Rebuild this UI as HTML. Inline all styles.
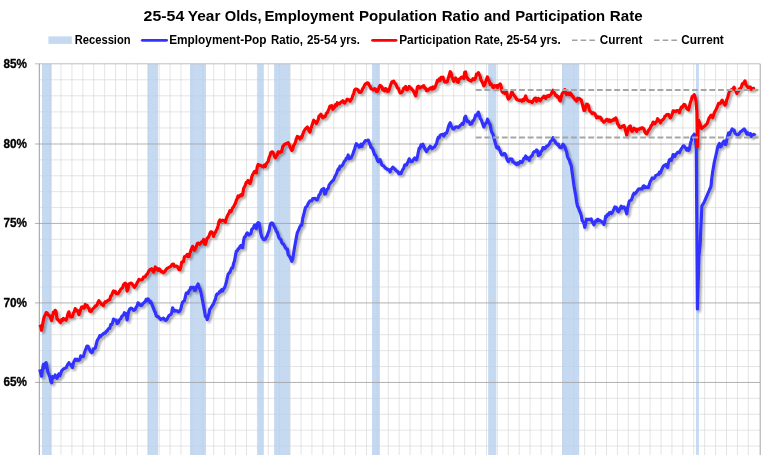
<!DOCTYPE html>
<html><head><meta charset="utf-8"><title>chart</title>
<style>html,body{margin:0;padding:0;background:#fff;overflow:hidden}body{width:768px;height:455px;position:relative;font-family:"Liberation Sans",sans-serif}</style></head>
<body>
<svg width="768" height="455" viewBox="0 0 768 455" style="position:absolute;left:0;top:0">
<defs><filter id="sh" x="-5%" y="-5%" width="110%" height="110%"><feGaussianBlur in="SourceAlpha" stdDeviation="1.3"/><feOffset dx="1.6" dy="1.6"/><feComponentTransfer><feFuncA type="linear" slope="0.33"/></feComponentTransfer><feMerge><feMergeNode/><feMergeNode in="SourceGraphic"/></feMerge></filter></defs>
<rect x="0" y="0" width="768" height="455" fill="#fff"/>
<path d="M50.09,63.8 V455 M61.00,63.8 V455 M71.91,63.8 V455 M82.82,63.8 V455 M93.73,63.8 V455 M104.64,63.8 V455 M115.55,63.8 V455 M126.46,63.8 V455 M137.37,63.8 V455 M148.28,63.8 V455 M159.19,63.8 V455 M170.10,63.8 V455 M181.01,63.8 V455 M191.92,63.8 V455 M202.83,63.8 V455 M213.74,63.8 V455 M224.65,63.8 V455 M235.56,63.8 V455 M246.47,63.8 V455 M257.38,63.8 V455 M268.29,63.8 V455 M279.20,63.8 V455 M290.11,63.8 V455 M301.02,63.8 V455 M311.93,63.8 V455 M322.84,63.8 V455 M333.75,63.8 V455 M344.66,63.8 V455 M355.57,63.8 V455 M366.48,63.8 V455 M377.39,63.8 V455 M388.30,63.8 V455 M399.21,63.8 V455 M410.12,63.8 V455 M421.03,63.8 V455 M431.94,63.8 V455 M442.85,63.8 V455 M453.76,63.8 V455 M464.67,63.8 V455 M475.58,63.8 V455 M486.49,63.8 V455 M497.40,63.8 V455 M508.31,63.8 V455 M519.22,63.8 V455 M530.13,63.8 V455 M541.04,63.8 V455 M551.95,63.8 V455 M562.86,63.8 V455 M573.77,63.8 V455 M584.68,63.8 V455 M595.59,63.8 V455 M606.50,63.8 V455 M617.41,63.8 V455 M628.32,63.8 V455 M639.23,63.8 V455 M650.14,63.8 V455 M661.05,63.8 V455 M671.96,63.8 V455 M682.87,63.8 V455 M693.78,63.8 V455 M704.69,63.8 V455 M715.60,63.8 V455 M726.51,63.8 V455 M737.42,63.8 V455 M748.33,63.8 V455" stroke="#d8d8d8" stroke-width="0.7" fill="none"/>
<path d="M39.3,79.76 H760.2 M39.3,95.82 H760.2 M39.3,111.88 H760.2 M39.3,127.94 H760.2 M39.3,159.89 H760.2 M39.3,175.78 H760.2 M39.3,191.67 H760.2 M39.3,207.56 H760.2 M39.3,239.34 H760.2 M39.3,255.23 H760.2 M39.3,271.12 H760.2 M39.3,287.01 H760.2 M39.3,318.81 H760.2 M39.3,334.72 H760.2 M39.3,350.63 H760.2 M39.3,366.54 H760.2 M39.3,398.35 H760.2 M39.3,414.25 H760.2 M39.3,430.15 H760.2 M39.3,446.05 H760.2" stroke="#d8d8d8" stroke-width="0.7" fill="none"/>
<rect x="42.0" y="63.8" width="9.7" height="393.2" fill="#b7d0ee" fill-opacity="0.8"/>
<rect x="147.5" y="63.8" width="10.6" height="393.2" fill="#b7d0ee" fill-opacity="0.8"/>
<rect x="190.0" y="63.8" width="15.9" height="393.2" fill="#b7d0ee" fill-opacity="0.8"/>
<rect x="257.6" y="63.8" width="6.2" height="393.2" fill="#b7d0ee" fill-opacity="0.8"/>
<rect x="274.1" y="63.8" width="15.8" height="393.2" fill="#b7d0ee" fill-opacity="0.8"/>
<rect x="372.0" y="63.8" width="7.9" height="393.2" fill="#b7d0ee" fill-opacity="0.8"/>
<rect x="488.2" y="63.8" width="8.1" height="393.2" fill="#b7d0ee" fill-opacity="0.8"/>
<rect x="562.1" y="63.8" width="17.1" height="393.2" fill="#b7d0ee" fill-opacity="0.8"/>
<rect x="696.05" y="63.8" width="2.8" height="393.2" fill="#b7d0ee" fill-opacity="0.8"/>
<path d="M35.0,144.00 H760.2 M35.0,223.45 H760.2 M35.0,302.90 H760.2 M35.0,382.45 H760.2" stroke="#a4a4a4" stroke-width="0.85" fill="none"/>
<path d="M35.0,63.8 H760.2" stroke="#bfbfbf" stroke-width="1" fill="none"/>
<path d="M760.2,63.8 V455" stroke="#a6a6a6" stroke-width="1" fill="none"/>
<path d="M39.3,63.8 V455" stroke="#8a8a8a" stroke-width="0.85" fill="none"/>
<g filter="url(#sh)"><path d="M39.8,369.4 L40.7,373.3 L41.6,376.2 L42.5,369.6 L43.4,364.3 L44.3,368.0 L45.2,363.7 L46.1,362.6 L47.0,367.3 L47.9,372.1 L48.9,374.4 L49.8,376.7 L50.7,381.0 L51.6,382.9 L52.5,376.7 L53.4,377.8 L54.3,377.4 L55.2,375.0 L56.1,376.5 L57.0,378.4 L58.0,376.3 L58.9,373.8 L59.8,375.7 L60.7,373.9 L61.6,371.1 L62.5,370.0 L63.4,368.9 L64.3,368.6 L65.2,368.2 L66.1,367.7 L67.1,365.6 L68.0,364.2 L68.9,362.7 L69.8,364.3 L70.7,364.6 L71.6,366.2 L72.5,367.6 L73.4,363.1 L74.3,360.8 L75.2,359.2 L76.2,360.3 L77.1,359.3 L78.0,360.3 L78.9,360.3 L79.8,359.6 L80.7,355.9 L81.6,356.8 L82.5,356.7 L83.4,356.6 L84.3,353.3 L85.3,350.3 L86.2,348.1 L87.1,346.0 L88.0,346.2 L88.9,348.2 L89.8,350.0 L90.7,351.7 L91.6,352.6 L92.5,352.1 L93.4,348.8 L94.4,348.7 L95.3,348.2 L96.2,344.5 L97.1,341.0 L98.0,339.1 L98.9,337.8 L99.8,335.7 L100.7,336.5 L101.6,334.9 L102.5,334.6 L103.5,333.6 L104.4,332.9 L105.3,333.1 L106.2,331.4 L107.1,331.2 L108.0,329.3 L108.9,328.4 L109.8,328.5 L110.7,324.5 L111.6,324.7 L112.6,322.6 L113.5,319.1 L114.4,319.8 L115.3,320.2 L116.2,320.1 L117.1,323.6 L118.0,322.9 L118.9,321.2 L119.8,319.4 L120.7,318.9 L121.7,316.6 L122.6,315.6 L123.5,315.1 L124.4,312.7 L125.3,314.4 L126.2,313.8 L127.1,319.9 L128.0,314.7 L128.9,311.0 L129.8,309.0 L130.8,308.2 L131.7,308.3 L132.6,309.1 L133.5,310.3 L134.4,310.2 L135.3,309.3 L136.2,307.0 L137.1,306.2 L138.0,302.8 L138.9,303.5 L139.9,304.7 L140.8,305.4 L141.7,305.5 L142.6,304.0 L143.5,303.1 L144.4,302.3 L145.3,301.5 L146.2,299.3 L147.1,300.5 L148.0,298.8 L149.0,300.2 L149.9,302.5 L150.8,301.8 L151.7,303.6 L152.6,306.2 L153.5,308.4 L154.4,310.7 L155.3,312.4 L156.2,315.7 L157.1,316.5 L158.1,316.5 L159.0,317.7 L159.9,318.6 L160.8,319.5 L161.7,318.9 L162.6,318.8 L163.5,318.2 L164.4,318.9 L165.3,320.3 L166.2,320.2 L167.2,318.9 L168.1,317.2 L169.0,315.6 L169.9,315.0 L170.8,314.6 L171.7,312.7 L172.6,307.9 L173.5,309.9 L174.4,311.1 L175.3,310.6 L176.3,310.9 L177.2,310.8 L178.1,311.8 L179.0,311.9 L179.9,310.7 L180.8,309.1 L181.7,305.0 L182.6,302.2 L183.5,301.3 L184.4,300.8 L185.4,296.6 L186.3,293.0 L187.2,292.9 L188.1,293.4 L189.0,290.6 L189.9,290.2 L190.8,287.3 L191.7,287.9 L192.6,287.4 L193.5,287.4 L194.5,290.5 L195.4,290.3 L196.3,286.7 L197.2,286.0 L198.1,283.9 L199.0,287.4 L199.9,288.9 L200.8,291.7 L201.7,296.2 L202.6,300.7 L203.6,306.2 L204.5,310.9 L205.4,316.4 L206.3,316.5 L207.2,319.5 L208.1,316.4 L209.0,313.6 L209.9,308.9 L210.8,308.4 L211.7,306.4 L212.7,305.1 L213.6,303.6 L214.5,301.0 L215.4,299.3 L216.3,295.4 L217.2,293.9 L218.1,293.8 L219.0,292.9 L219.9,291.3 L220.8,291.8 L221.7,289.6 L222.7,290.9 L223.6,288.9 L224.5,287.9 L225.4,285.3 L226.3,282.5 L227.2,278.2 L228.1,274.4 L229.0,273.0 L229.9,272.5 L230.8,269.9 L231.8,267.8 L232.7,267.9 L233.6,263.4 L234.5,261.1 L235.4,256.0 L236.3,251.2 L237.2,251.0 L238.1,249.0 L239.0,248.5 L239.9,246.6 L240.9,245.4 L241.8,247.5 L242.7,247.7 L243.6,240.6 L244.5,237.0 L245.4,236.7 L246.3,234.2 L247.2,232.9 L248.1,233.8 L249.0,235.0 L250.0,233.8 L250.9,233.7 L251.8,229.3 L252.7,228.7 L253.6,227.2 L254.5,225.3 L255.4,225.1 L256.3,228.6 L257.2,224.1 L258.1,222.6 L259.1,223.2 L260.0,228.0 L260.9,233.9 L261.8,236.9 L262.7,238.3 L263.6,239.6 L264.5,239.6 L265.4,239.1 L266.3,237.2 L267.2,235.8 L268.2,232.7 L269.1,230.8 L270.0,225.6 L270.9,223.3 L271.8,222.8 L272.7,223.4 L273.6,225.2 L274.5,227.0 L275.4,228.8 L276.3,231.3 L277.3,232.2 L278.2,235.4 L279.1,237.9 L280.0,239.0 L280.9,239.5 L281.8,242.6 L282.7,244.0 L283.6,244.1 L284.5,245.9 L285.4,247.7 L286.4,249.1 L287.3,249.1 L288.2,254.6 L289.1,256.0 L290.0,257.0 L290.9,259.0 L291.8,261.3 L292.7,259.2 L293.6,253.8 L294.5,247.8 L295.5,242.3 L296.4,237.4 L297.3,232.8 L298.2,230.9 L299.1,229.0 L300.0,226.6 L300.9,225.2 L301.8,225.3 L302.7,218.4 L303.6,215.3 L304.6,211.0 L305.5,207.5 L306.4,206.8 L307.3,205.7 L308.2,203.5 L309.1,202.3 L310.0,200.8 L310.9,200.8 L311.8,200.8 L312.7,198.6 L313.7,198.8 L314.6,198.4 L315.5,198.5 L316.4,200.0 L317.3,200.0 L318.2,197.6 L319.1,194.9 L320.0,194.3 L320.9,191.4 L321.8,189.7 L322.8,189.2 L323.7,188.5 L324.6,194.1 L325.5,193.8 L326.4,191.1 L327.3,189.1 L328.2,188.7 L329.1,185.2 L330.0,183.9 L330.9,182.6 L331.9,181.6 L332.8,180.7 L333.7,179.8 L334.6,177.3 L335.5,175.5 L336.4,174.1 L337.3,171.2 L338.2,169.0 L339.1,169.6 L340.0,166.1 L341.0,166.6 L341.9,165.9 L342.8,164.7 L343.7,162.7 L344.6,160.9 L345.5,160.2 L346.4,158.3 L347.3,157.9 L348.2,155.0 L349.1,158.8 L350.1,158.2 L351.0,158.1 L351.9,156.3 L352.8,154.4 L353.7,151.4 L354.6,149.3 L355.5,145.9 L356.4,143.7 L357.3,144.8 L358.2,145.3 L359.2,147.2 L360.1,146.0 L361.0,144.1 L361.9,146.6 L362.8,143.8 L363.7,143.3 L364.6,141.7 L365.5,140.5 L366.4,140.7 L367.3,140.5 L368.3,140.1 L369.2,142.7 L370.1,144.5 L371.0,147.5 L371.9,147.7 L372.8,149.2 L373.7,151.9 L374.6,154.6 L375.5,155.2 L376.4,157.1 L377.4,160.3 L378.3,161.7 L379.2,161.1 L380.1,159.7 L381.0,162.1 L381.9,165.0 L382.8,165.5 L383.7,165.7 L384.6,167.2 L385.5,168.1 L386.5,168.8 L387.4,169.5 L388.3,169.4 L389.2,170.3 L390.1,171.9 L391.0,169.5 L391.9,168.4 L392.8,167.1 L393.7,167.9 L394.6,168.8 L395.6,169.9 L396.5,171.0 L397.4,171.3 L398.3,172.9 L399.2,173.9 L400.1,172.7 L401.0,173.5 L401.9,171.4 L402.8,169.5 L403.7,168.4 L404.7,165.0 L405.6,164.7 L406.5,165.0 L407.4,163.0 L408.3,161.3 L409.2,158.8 L410.1,160.5 L411.0,161.7 L411.9,161.7 L412.8,160.8 L413.8,159.1 L414.7,157.9 L415.6,158.2 L416.5,159.9 L417.4,157.0 L418.3,152.3 L419.2,148.2 L420.1,148.4 L421.0,144.8 L421.9,146.1 L422.9,144.2 L423.8,146.5 L424.7,148.6 L425.6,150.1 L426.5,151.6 L427.4,150.0 L428.3,149.0 L429.2,147.8 L430.1,146.2 L431.0,147.0 L432.0,148.7 L432.9,148.0 L433.8,147.1 L434.7,147.0 L435.6,144.8 L436.5,143.9 L437.4,139.8 L438.3,137.4 L439.2,137.9 L440.1,135.5 L441.1,134.6 L442.0,134.6 L442.9,134.2 L443.8,136.1 L444.7,134.7 L445.6,133.0 L446.5,133.1 L447.4,130.8 L448.3,127.3 L449.2,124.5 L450.2,122.8 L451.1,125.7 L452.0,127.2 L452.9,128.7 L453.8,129.1 L454.7,127.8 L455.6,127.1 L456.5,126.8 L457.4,127.1 L458.3,127.5 L459.3,126.7 L460.2,125.2 L461.1,125.0 L462.0,123.5 L462.9,124.4 L463.8,122.6 L464.7,117.4 L465.6,116.3 L466.5,119.4 L467.4,121.5 L468.4,121.2 L469.3,122.1 L470.2,124.3 L471.1,123.9 L472.0,123.2 L472.9,120.5 L473.8,120.4 L474.7,118.4 L475.6,115.2 L476.5,115.7 L477.5,113.8 L478.4,112.1 L479.3,115.2 L480.2,118.4 L481.1,119.5 L482.0,121.9 L482.9,124.6 L483.8,127.0 L484.7,125.0 L485.6,123.4 L486.6,122.6 L487.5,119.2 L488.4,121.5 L489.3,123.5 L490.2,124.4 L491.1,130.1 L492.0,132.7 L492.9,133.9 L493.8,137.5 L494.7,140.7 L495.7,144.5 L496.6,147.5 L497.5,148.2 L498.4,147.0 L499.3,149.6 L500.2,150.9 L501.1,153.7 L502.0,155.0 L502.9,154.7 L503.8,153.7 L504.8,153.7 L505.7,155.1 L506.6,158.1 L507.5,160.4 L508.4,161.6 L509.3,159.7 L510.2,158.8 L511.1,159.1 L512.0,159.1 L512.9,161.9 L513.9,162.1 L514.8,163.5 L515.7,163.3 L516.6,164.6 L517.5,162.9 L518.4,164.1 L519.3,163.3 L520.2,161.4 L521.1,161.8 L522.0,162.5 L523.0,160.8 L523.9,158.4 L524.8,158.2 L525.7,156.0 L526.6,158.8 L527.5,157.6 L528.4,158.4 L529.3,160.3 L530.2,157.8 L531.1,156.2 L532.1,156.1 L533.0,153.4 L533.9,151.8 L534.8,151.7 L535.7,151.3 L536.6,150.0 L537.5,150.9 L538.4,155.6 L539.3,154.9 L540.2,154.4 L541.2,150.9 L542.1,150.6 L543.0,147.5 L543.9,147.6 L544.8,148.8 L545.7,147.8 L546.6,146.0 L547.5,146.2 L548.4,145.1 L549.3,144.2 L550.3,141.7 L551.2,140.8 L552.1,139.9 L553.0,137.7 L553.9,140.2 L554.8,140.9 L555.7,143.0 L556.6,143.7 L557.5,144.8 L558.4,144.3 L559.4,147.0 L560.3,147.5 L561.2,147.8 L562.1,146.5 L563.0,144.2 L563.9,145.2 L564.8,146.9 L565.7,149.5 L566.6,151.9 L567.5,156.6 L568.5,158.8 L569.4,160.2 L570.3,163.5 L571.2,165.4 L572.1,172.0 L573.0,178.4 L573.9,185.3 L574.8,190.5 L575.7,195.4 L576.6,201.8 L577.6,206.4 L578.5,207.8 L579.4,210.7 L580.3,212.4 L581.2,215.4 L582.1,220.5 L583.0,221.4 L583.9,223.2 L584.8,227.3 L585.7,223.5 L586.6,219.2 L587.6,219.4 L588.5,219.3 L589.4,219.7 L590.3,219.3 L591.2,218.9 L592.1,221.5 L593.0,223.1 L593.9,224.8 L594.8,222.9 L595.7,220.8 L596.7,221.1 L597.6,219.3 L598.5,220.9 L599.4,220.1 L600.3,220.9 L601.2,221.4 L602.1,221.9 L603.0,222.9 L603.9,224.4 L604.8,221.3 L605.8,216.1 L606.7,216.5 L607.6,214.4 L608.5,214.9 L609.4,212.8 L610.3,212.4 L611.2,213.7 L612.1,213.0 L613.0,211.1 L613.9,209.2 L614.9,206.9 L615.8,207.2 L616.7,207.8 L617.6,211.0 L618.5,211.7 L619.4,210.0 L620.3,208.2 L621.2,206.1 L622.1,208.2 L623.0,207.4 L624.0,206.9 L624.9,208.4 L625.8,210.5 L626.7,213.9 L627.6,208.0 L628.5,204.3 L629.4,200.9 L630.3,200.6 L631.2,200.1 L632.1,198.1 L633.1,194.8 L634.0,193.2 L634.9,194.0 L635.8,193.0 L636.7,191.7 L637.6,190.5 L638.5,189.0 L639.4,188.8 L640.3,189.2 L641.2,188.6 L642.2,189.0 L643.1,186.2 L644.0,185.8 L644.9,187.7 L645.8,187.1 L646.7,187.5 L647.6,186.7 L648.5,187.4 L649.4,184.2 L650.3,181.5 L651.3,179.9 L652.2,178.0 L653.1,178.4 L654.0,178.3 L654.9,177.2 L655.8,175.5 L656.7,175.2 L657.6,174.7 L658.5,174.6 L659.4,172.2 L660.4,173.0 L661.3,170.6 L662.2,168.5 L663.1,166.7 L664.0,165.5 L664.9,165.2 L665.8,164.5 L666.7,166.4 L667.6,167.5 L668.5,162.8 L669.5,159.6 L670.4,159.2 L671.3,160.5 L672.2,158.1 L673.1,154.6 L674.0,154.9 L674.9,156.4 L675.8,154.3 L676.7,153.7 L677.6,152.2 L678.6,152.0 L679.5,152.7 L680.4,150.5 L681.3,148.9 L682.2,147.5 L683.1,146.0 L684.0,145.8 L684.9,147.3 L685.8,148.1 L686.7,150.2 L687.7,148.5 L688.6,150.3 L689.5,149.1 L690.4,143.6 L691.3,140.6 L692.2,136.9 L693.1,136.0 L694.3,134.2 L695.5,138.4 L696.3,150.0 L697.4,308.9 L698.9,256.0 L700.2,243.5 L701.0,225.0 L701.9,206.0 L704.4,201.7 L706.9,195.9 L709.4,190.0 L711.0,186.5 L711.7,179.0 L712.7,171.8 L714.4,161.8 L716.0,155.0 L717.8,146.8 L719.4,143.4 L720.4,146.9 L721.3,146.2 L722.2,143.9 L723.1,142.2 L724.1,141.0 L725.0,144.4 L725.9,144.5 L726.8,139.9 L727.7,136.1 L728.6,133.0 L729.5,134.6 L730.4,132.4 L731.3,130.6 L732.2,128.9 L733.2,130.2 L734.1,130.1 L735.0,133.1 L735.9,133.9 L736.8,134.6 L737.7,135.0 L738.6,134.4 L739.5,133.4 L740.4,131.7 L741.3,131.5 L742.3,130.4 L743.2,129.7 L744.1,128.9 L745.0,130.2 L745.9,131.9 L746.8,134.0 L747.7,132.7 L748.6,134.4 L749.5,134.8 L750.4,133.6 L751.4,136.6 L752.3,135.2 L753.2,134.6 L754.1,134.7 L755.0,133.2" stroke="#3333ff" stroke-width="3.2" fill="none" stroke-linejoin="round" stroke-linecap="butt"/></g>
<g filter="url(#sh)"><path d="M39.8,324.7 L40.7,326.3 L41.6,330.3 L42.5,325.3 L43.4,320.1 L44.3,316.6 L45.2,315.2 L46.1,312.7 L47.0,312.8 L47.9,314.4 L48.9,315.2 L49.8,315.9 L50.7,318.2 L51.6,320.6 L52.5,316.7 L53.4,312.1 L54.3,313.5 L55.2,310.3 L56.1,311.9 L57.0,318.8 L58.0,319.7 L58.9,320.7 L59.8,321.7 L60.7,322.5 L61.6,319.6 L62.5,320.4 L63.4,318.4 L64.3,319.2 L65.2,319.7 L66.1,320.2 L67.1,317.2 L68.0,313.6 L68.9,311.8 L69.8,316.1 L70.7,316.8 L71.6,316.9 L72.5,316.6 L73.4,312.9 L74.3,311.8 L75.2,308.6 L76.2,310.9 L77.1,310.2 L78.0,310.9 L78.9,314.7 L79.8,312.9 L80.7,309.3 L81.6,307.0 L82.5,306.8 L83.4,308.1 L84.3,308.2 L85.3,304.5 L86.2,305.6 L87.1,305.3 L88.0,307.8 L88.9,308.0 L89.8,311.3 L90.7,311.5 L91.6,311.0 L92.5,309.3 L93.4,308.4 L94.4,307.4 L95.3,305.9 L96.2,306.1 L97.1,304.8 L98.0,302.2 L98.9,300.7 L99.8,302.7 L100.7,302.9 L101.6,304.6 L102.5,304.5 L103.5,305.5 L104.4,303.0 L105.3,301.6 L106.2,302.1 L107.1,301.2 L108.0,300.2 L108.9,300.2 L109.8,299.6 L110.7,295.9 L111.6,295.5 L112.6,292.7 L113.5,290.9 L114.4,292.3 L115.3,291.4 L116.2,293.6 L117.1,293.6 L118.0,293.7 L118.9,292.3 L119.8,291.0 L120.7,289.4 L121.7,288.5 L122.6,287.7 L123.5,284.8 L124.4,283.7 L125.3,283.1 L126.2,284.6 L127.1,291.1 L128.0,289.3 L128.9,283.8 L129.8,283.7 L130.8,283.0 L131.7,283.4 L132.6,284.7 L133.5,285.9 L134.4,287.3 L135.3,286.0 L136.2,285.1 L137.1,282.7 L138.0,281.3 L138.9,279.3 L139.9,279.9 L140.8,279.8 L141.7,279.9 L142.6,279.2 L143.5,277.2 L144.4,277.1 L145.3,276.7 L146.2,274.9 L147.1,274.4 L148.0,272.8 L149.0,270.7 L149.9,269.6 L150.8,269.5 L151.7,268.7 L152.6,270.9 L153.5,272.2 L154.4,270.3 L155.3,267.0 L156.2,269.4 L157.1,268.4 L158.1,270.4 L159.0,268.9 L159.9,269.5 L160.8,271.2 L161.7,271.8 L162.6,271.7 L163.5,272.7 L164.4,272.0 L165.3,270.9 L166.2,269.4 L167.2,268.3 L168.1,268.0 L169.0,267.3 L169.9,266.8 L170.8,266.5 L171.7,265.0 L172.6,264.1 L173.5,264.1 L174.4,266.3 L175.3,266.1 L176.3,266.2 L177.2,266.3 L178.1,267.9 L179.0,269.5 L179.9,269.8 L180.8,267.3 L181.7,262.1 L182.6,261.7 L183.5,261.8 L184.4,256.9 L185.4,256.2 L186.3,256.1 L187.2,254.5 L188.1,256.7 L189.0,256.6 L189.9,253.5 L190.8,250.7 L191.7,248.4 L192.6,246.3 L193.5,248.8 L194.5,250.3 L195.4,248.8 L196.3,246.7 L197.2,243.8 L198.1,243.1 L199.0,243.4 L199.9,244.2 L200.8,243.0 L201.7,241.8 L202.6,241.5 L203.6,239.5 L204.5,243.8 L205.4,244.4 L206.3,241.3 L207.2,238.0 L208.1,237.8 L209.0,236.1 L209.9,233.5 L210.8,231.8 L211.7,231.8 L212.7,233.3 L213.6,236.4 L214.5,233.3 L215.4,232.3 L216.3,230.3 L217.2,228.7 L218.1,225.6 L219.0,221.6 L219.9,219.9 L220.8,221.3 L221.7,220.6 L222.7,220.1 L223.6,220.9 L224.5,220.4 L225.4,222.0 L226.3,218.8 L227.2,216.4 L228.1,214.5 L229.0,213.0 L229.9,210.7 L230.8,211.9 L231.8,210.0 L232.7,207.7 L233.6,207.0 L234.5,204.9 L235.4,203.2 L236.3,200.4 L237.2,198.8 L238.1,196.0 L239.0,197.1 L239.9,195.6 L240.9,194.6 L241.8,195.7 L242.7,194.6 L243.6,188.5 L244.5,187.0 L245.4,184.8 L246.3,182.3 L247.2,181.8 L248.1,180.5 L249.0,182.8 L250.0,183.4 L250.9,181.1 L251.8,176.9 L252.7,174.5 L253.6,173.1 L254.5,171.4 L255.4,172.0 L256.3,172.9 L257.2,167.1 L258.1,164.5 L259.1,165.5 L260.0,165.2 L260.9,165.5 L261.8,166.3 L262.7,166.3 L263.6,167.0 L264.5,164.9 L265.4,166.3 L266.3,163.8 L267.2,162.5 L268.2,161.4 L269.1,157.6 L270.0,155.6 L270.9,152.3 L271.8,151.8 L272.7,152.1 L273.6,153.5 L274.5,156.4 L275.4,157.8 L276.3,155.9 L277.3,155.0 L278.2,151.8 L279.1,152.6 L280.0,152.7 L280.9,151.2 L281.8,151.6 L282.7,146.5 L283.6,145.7 L284.5,144.3 L285.4,143.8 L286.4,143.9 L287.3,143.0 L288.2,142.7 L289.1,144.2 L290.0,146.8 L290.9,148.8 L291.8,150.5 L292.7,149.3 L293.6,145.6 L294.5,144.5 L295.5,141.8 L296.4,138.8 L297.3,136.5 L298.2,137.0 L299.1,137.3 L300.0,139.0 L300.9,137.0 L301.8,137.5 L302.7,134.5 L303.6,132.1 L304.6,130.2 L305.5,128.9 L306.4,128.0 L307.3,127.0 L308.2,128.6 L309.1,130.8 L310.0,132.2 L310.9,128.7 L311.8,125.9 L312.7,123.2 L313.7,120.2 L314.6,121.2 L315.5,121.9 L316.4,123.5 L317.3,121.8 L318.2,119.7 L319.1,115.8 L320.0,115.3 L320.9,114.2 L321.8,116.4 L322.8,117.9 L323.7,116.5 L324.6,116.9 L325.5,115.9 L326.4,113.3 L327.3,112.9 L328.2,110.6 L329.1,108.6 L330.0,106.1 L330.9,106.3 L331.9,105.6 L332.8,109.3 L333.7,108.4 L334.6,106.9 L335.5,104.7 L336.4,105.8 L337.3,102.7 L338.2,103.9 L339.1,103.9 L340.0,103.3 L341.0,102.1 L341.9,101.8 L342.8,100.8 L343.7,102.5 L344.6,103.1 L345.5,101.6 L346.4,100.8 L347.3,99.1 L348.2,99.5 L349.1,99.8 L350.1,101.2 L351.0,99.5 L351.9,98.7 L352.8,95.4 L353.7,93.7 L354.6,89.9 L355.5,89.2 L356.4,89.1 L357.3,89.4 L358.2,90.1 L359.2,92.2 L360.1,92.3 L361.0,92.2 L361.9,90.5 L362.8,88.4 L363.7,87.3 L364.6,85.2 L365.5,83.8 L366.4,83.6 L367.3,82.8 L368.3,83.2 L369.2,85.4 L370.1,86.2 L371.0,88.7 L371.9,88.8 L372.8,89.7 L373.7,90.0 L374.6,88.6 L375.5,89.2 L376.4,91.3 L377.4,91.4 L378.3,89.8 L379.2,87.0 L380.1,85.3 L381.0,86.1 L381.9,86.9 L382.8,89.8 L383.7,89.3 L384.6,90.9 L385.5,88.6 L386.5,89.2 L387.4,91.5 L388.3,91.3 L389.2,89.9 L390.1,86.8 L391.0,84.1 L391.9,81.9 L392.8,81.8 L393.7,81.1 L394.6,83.0 L395.6,83.7 L396.5,85.6 L397.4,87.8 L398.3,88.3 L399.2,90.8 L400.1,92.8 L401.0,92.9 L401.9,92.2 L402.8,90.8 L403.7,88.1 L404.7,87.6 L405.6,86.5 L406.5,89.7 L407.4,89.8 L408.3,88.7 L409.2,86.4 L410.1,87.7 L411.0,88.2 L411.9,89.6 L412.8,90.1 L413.8,91.8 L414.7,93.9 L415.6,95.9 L416.5,92.4 L417.4,86.9 L418.3,86.2 L419.2,87.1 L420.1,88.1 L421.0,86.9 L421.9,87.2 L422.9,86.2 L423.8,85.7 L424.7,88.1 L425.6,88.3 L426.5,90.6 L427.4,90.8 L428.3,89.4 L429.2,89.6 L430.1,88.1 L431.0,87.7 L432.0,89.2 L432.9,87.0 L433.8,88.7 L434.7,87.8 L435.6,85.9 L436.5,83.5 L437.4,80.4 L438.3,81.0 L439.2,78.9 L440.1,80.6 L441.1,77.3 L442.0,78.3 L442.9,77.1 L443.8,79.8 L444.7,82.0 L445.6,81.6 L446.5,82.2 L447.4,81.5 L448.3,78.1 L449.2,75.1 L450.2,71.7 L451.1,73.0 L452.0,77.3 L452.9,79.1 L453.8,81.5 L454.7,78.7 L455.6,78.0 L456.5,79.2 L457.4,81.9 L458.3,82.3 L459.3,79.1 L460.2,79.0 L461.1,77.4 L462.0,77.1 L462.9,77.7 L463.8,78.4 L464.7,72.2 L465.6,71.9 L466.5,76.7 L467.4,78.0 L468.4,79.5 L469.3,80.3 L470.2,80.3 L471.1,81.1 L472.0,80.2 L472.9,78.7 L473.8,79.7 L474.7,79.6 L475.6,77.8 L476.5,74.2 L477.5,74.2 L478.4,72.6 L479.3,74.6 L480.2,76.6 L481.1,80.3 L482.0,81.7 L482.9,83.5 L483.8,85.9 L484.7,84.7 L485.6,81.8 L486.6,79.1 L487.5,76.9 L488.4,79.6 L489.3,81.6 L490.2,84.6 L491.1,84.0 L492.0,85.2 L492.9,87.5 L493.8,87.4 L494.7,85.6 L495.7,86.1 L496.6,85.6 L497.5,87.7 L498.4,85.2 L499.3,84.9 L500.2,83.9 L501.1,86.3 L502.0,91.4 L502.9,92.6 L503.8,92.3 L504.8,93.6 L505.7,92.6 L506.6,92.1 L507.5,96.9 L508.4,99.1 L509.3,98.0 L510.2,97.3 L511.1,93.9 L512.0,91.6 L512.9,94.1 L513.9,95.2 L514.8,96.3 L515.7,97.6 L516.6,99.3 L517.5,99.7 L518.4,100.0 L519.3,100.5 L520.2,100.3 L521.1,100.0 L522.0,101.3 L523.0,99.4 L523.9,100.3 L524.8,98.1 L525.7,96.0 L526.6,99.6 L527.5,100.2 L528.4,101.1 L529.3,101.4 L530.2,101.3 L531.1,101.5 L532.1,102.6 L533.0,101.4 L533.9,99.4 L534.8,98.2 L535.7,98.0 L536.6,101.3 L537.5,100.3 L538.4,98.4 L539.3,99.5 L540.2,100.9 L541.2,99.3 L542.1,98.1 L543.0,97.4 L543.9,96.1 L544.8,97.7 L545.7,98.4 L546.6,96.2 L547.5,96.7 L548.4,95.5 L549.3,96.2 L550.3,94.9 L551.2,94.2 L552.1,91.7 L553.0,90.3 L553.9,92.3 L554.8,93.6 L555.7,95.6 L556.6,95.4 L557.5,97.2 L558.4,96.6 L559.4,100.0 L560.3,101.1 L561.2,97.1 L562.1,93.9 L563.0,92.5 L563.9,92.3 L564.8,89.6 L565.7,92.7 L566.6,94.5 L567.5,93.4 L568.5,93.1 L569.4,94.6 L570.3,92.9 L571.2,94.2 L572.1,96.2 L573.0,96.4 L573.9,98.2 L574.8,99.3 L575.7,100.2 L576.6,101.1 L577.6,98.2 L578.5,99.0 L579.4,98.5 L580.3,99.4 L581.2,99.8 L582.1,103.2 L583.0,106.7 L583.9,110.4 L584.8,110.3 L585.7,106.2 L586.6,104.2 L587.6,104.3 L588.5,105.9 L589.4,110.3 L590.3,111.4 L591.2,112.3 L592.1,113.6 L593.0,112.8 L593.9,113.0 L594.8,113.7 L595.7,115.6 L596.7,117.9 L597.6,116.9 L598.5,116.9 L599.4,117.8 L600.3,117.2 L601.2,118.3 L602.1,120.6 L603.0,121.3 L603.9,122.2 L604.8,121.2 L605.8,120.4 L606.7,119.3 L607.6,119.5 L608.5,121.1 L609.4,119.9 L610.3,121.5 L611.2,121.0 L612.1,120.0 L613.0,120.3 L613.9,119.0 L614.9,119.9 L615.8,118.0 L616.7,119.9 L617.6,123.9 L618.5,124.9 L619.4,127.0 L620.3,127.7 L621.2,127.4 L622.1,126.2 L623.0,126.3 L624.0,125.5 L624.9,128.0 L625.8,131.7 L626.7,135.0 L627.6,131.3 L628.5,127.9 L629.4,126.6 L630.3,125.9 L631.2,130.3 L632.1,131.5 L633.1,130.3 L634.0,128.2 L634.9,129.1 L635.8,129.2 L636.7,131.4 L637.6,129.4 L638.5,129.0 L639.4,129.3 L640.3,128.1 L641.2,128.5 L642.2,127.7 L643.1,128.1 L644.0,129.2 L644.9,132.1 L645.8,133.2 L646.7,133.9 L647.6,132.5 L648.5,130.4 L649.4,129.4 L650.3,127.9 L651.3,125.4 L652.2,124.7 L653.1,122.1 L654.0,123.0 L654.9,123.7 L655.8,122.1 L656.7,121.5 L657.6,118.7 L658.5,119.9 L659.4,120.7 L660.4,122.9 L661.3,120.9 L662.2,120.2 L663.1,119.6 L664.0,118.4 L664.9,116.3 L665.8,115.9 L666.7,114.6 L667.6,114.8 L668.5,114.5 L669.5,116.4 L670.4,117.9 L671.3,116.2 L672.2,114.1 L673.1,110.9 L674.0,110.8 L674.9,111.7 L675.8,111.6 L676.7,110.5 L677.6,110.6 L678.6,110.9 L679.5,112.7 L680.4,109.3 L681.3,107.2 L682.2,107.4 L683.1,105.7 L684.0,104.4 L684.9,104.8 L685.8,106.6 L686.7,108.4 L687.7,109.3 L688.6,110.0 L689.5,106.0 L690.4,102.3 L691.3,100.0 L692.2,96.6 L693.1,96.0 L694.3,94.7 L696.0,100.9 L696.9,111.8 L697.4,146.8 L698.5,120.0 L699.9,123.5 L701.5,128.5 L703.5,126.9 L705.6,125.2 L707.2,123.5 L708.9,118.5 L711.1,115.2 L712.7,117.7 L714.4,112.6 L716.6,108.5 L718.6,103.4 L720.4,103.4 L721.3,101.4 L722.2,100.2 L723.1,101.9 L724.1,103.9 L725.0,105.2 L725.9,103.9 L726.8,99.6 L727.7,97.6 L728.6,94.1 L729.5,91.0 L730.4,90.7 L731.3,89.8 L732.2,89.4 L733.2,88.5 L734.1,87.3 L735.0,89.7 L735.9,90.8 L736.8,93.6 L737.7,90.9 L738.6,91.1 L739.5,88.9 L740.4,88.4 L741.3,87.1 L742.3,83.9 L743.2,83.8 L744.1,82.2 L745.0,80.9 L745.9,84.7 L746.8,85.8 L747.7,86.9 L748.6,89.1 L749.5,87.2 L750.4,87.1 L751.4,89.4 L752.3,88.7 L753.2,88.4 L754.1,88.5 L755.0,88.4" stroke="#ff0000" stroke-width="3.2" fill="none" stroke-linejoin="round" stroke-linecap="butt"/></g>
<path d="M475.8,89.95 H759.2" stroke="#a6a6a6" stroke-width="1.9" stroke-dasharray="5.9 2.75" fill="none"/>
<path d="M475.8,137.55 H759.2" stroke="#a6a6a6" stroke-width="1.9" stroke-dasharray="5.9 2.75" fill="none"/>
<rect x="48.4" y="36.4" width="23.4" height="7.5" fill="#c5d9f1"/>
<path d="M142.3,40.3 H166.6" stroke="#3333ff" stroke-width="2.8" stroke-linecap="round"/>
<path d="M372.6,40.3 H396.0" stroke="#ff0000" stroke-width="2.8" stroke-linecap="round"/>
<path d="M572,40.2 H596.5" stroke="#a0a0a0" stroke-width="1.5" stroke-dasharray="5.5 3.2"/>
<path d="M654,40.2 H678" stroke="#a0a0a0" stroke-width="1.5" stroke-dasharray="5.5 3.2"/>
<g style="opacity:0.995">
<text x="143.6" y="21.0" font-family="Liberation Sans, sans-serif" font-weight="bold" fill="#000" font-size="14.6" textLength="40.7" lengthAdjust="spacingAndGlyphs">25-54</text>
<text x="187.8" y="21.0" font-family="Liberation Sans, sans-serif" font-weight="bold" fill="#000" font-size="14.6" textLength="32.6" lengthAdjust="spacingAndGlyphs">Year</text>
<text x="224.8" y="21.0" font-family="Liberation Sans, sans-serif" font-weight="bold" fill="#000" font-size="14.6" textLength="36.8" lengthAdjust="spacingAndGlyphs">Olds,</text>
<text x="264.4" y="21.0" font-family="Liberation Sans, sans-serif" font-weight="bold" fill="#000" font-size="14.6" textLength="89.65" lengthAdjust="spacingAndGlyphs">Employment</text>
<text x="358.9" y="21.0" font-family="Liberation Sans, sans-serif" font-weight="bold" fill="#000" font-size="14.6" textLength="78.0" lengthAdjust="spacingAndGlyphs">Population</text>
<text x="441.7" y="21.0" font-family="Liberation Sans, sans-serif" font-weight="bold" fill="#000" font-size="14.6" textLength="37.7" lengthAdjust="spacingAndGlyphs">Ratio</text>
<text x="483.9" y="21.0" font-family="Liberation Sans, sans-serif" font-weight="bold" fill="#000" font-size="14.6" textLength="26.5" lengthAdjust="spacingAndGlyphs">and</text>
<text x="515.2" y="21.0" font-family="Liberation Sans, sans-serif" font-weight="bold" fill="#000" font-size="14.6" textLength="89.9" lengthAdjust="spacingAndGlyphs">Participation</text>
<text x="609.8" y="21.0" font-family="Liberation Sans, sans-serif" font-weight="bold" fill="#000" font-size="14.6" textLength="32.8" lengthAdjust="spacingAndGlyphs">Rate</text>
<text x="74.8" y="44.2" font-family="Liberation Sans, sans-serif" font-weight="bold" fill="#000" font-size="12" textLength="55.8" lengthAdjust="spacingAndGlyphs">Recession</text>
<text x="169.2" y="44.2" font-family="Liberation Sans, sans-serif" font-weight="bold" fill="#000" font-size="12" textLength="97.3" lengthAdjust="spacingAndGlyphs">Employment-Pop</text>
<text x="271.0" y="44.2" font-family="Liberation Sans, sans-serif" font-weight="bold" fill="#000" font-size="12" textLength="31.9" lengthAdjust="spacingAndGlyphs">Ratio,</text>
<text x="307.1" y="44.2" font-family="Liberation Sans, sans-serif" font-weight="bold" fill="#000" font-size="12" textLength="29.8" lengthAdjust="spacingAndGlyphs">25-54</text>
<text x="340.0" y="44.2" font-family="Liberation Sans, sans-serif" font-weight="bold" fill="#000" font-size="12" textLength="19.8" lengthAdjust="spacingAndGlyphs">yrs.</text>
<text x="399.2" y="44.2" font-family="Liberation Sans, sans-serif" font-weight="bold" fill="#000" font-size="12" textLength="71.8" lengthAdjust="spacingAndGlyphs">Participation</text>
<text x="474.8" y="44.2" font-family="Liberation Sans, sans-serif" font-weight="bold" fill="#000" font-size="12" textLength="28.2" lengthAdjust="spacingAndGlyphs">Rate,</text>
<text x="506.4" y="44.2" font-family="Liberation Sans, sans-serif" font-weight="bold" fill="#000" font-size="12" textLength="30.4" lengthAdjust="spacingAndGlyphs">25-54</text>
<text x="540.1" y="44.2" font-family="Liberation Sans, sans-serif" font-weight="bold" fill="#000" font-size="12" textLength="20.6" lengthAdjust="spacingAndGlyphs">yrs.</text>
<text x="599.8" y="44.2" font-family="Liberation Sans, sans-serif" font-weight="bold" fill="#000" font-size="12" textLength="42.6" lengthAdjust="spacingAndGlyphs">Current</text>
<text x="681.3" y="44.2" font-family="Liberation Sans, sans-serif" font-weight="bold" fill="#000" font-size="12" textLength="42.5" lengthAdjust="spacingAndGlyphs">Current</text>
<text stroke="#000" stroke-width="0.3" x="3.5" y="67.7" font-family="Liberation Sans, sans-serif" font-weight="bold" fill="#000" font-size="11.9" textLength="23.5" lengthAdjust="spacingAndGlyphs">85%</text>
<text stroke="#000" stroke-width="0.3" x="3.5" y="148.0" font-family="Liberation Sans, sans-serif" font-weight="bold" fill="#000" font-size="11.9" textLength="23.5" lengthAdjust="spacingAndGlyphs">80%</text>
<text stroke="#000" stroke-width="0.3" x="3.5" y="227.4" font-family="Liberation Sans, sans-serif" font-weight="bold" fill="#000" font-size="11.9" textLength="23.5" lengthAdjust="spacingAndGlyphs">75%</text>
<text stroke="#000" stroke-width="0.3" x="3.5" y="306.9" font-family="Liberation Sans, sans-serif" font-weight="bold" fill="#000" font-size="11.9" textLength="23.5" lengthAdjust="spacingAndGlyphs">70%</text>
<text stroke="#000" stroke-width="0.3" x="3.5" y="386.4" font-family="Liberation Sans, sans-serif" font-weight="bold" fill="#000" font-size="11.9" textLength="23.5" lengthAdjust="spacingAndGlyphs">65%</text>
</g>
</svg>
</body></html>
